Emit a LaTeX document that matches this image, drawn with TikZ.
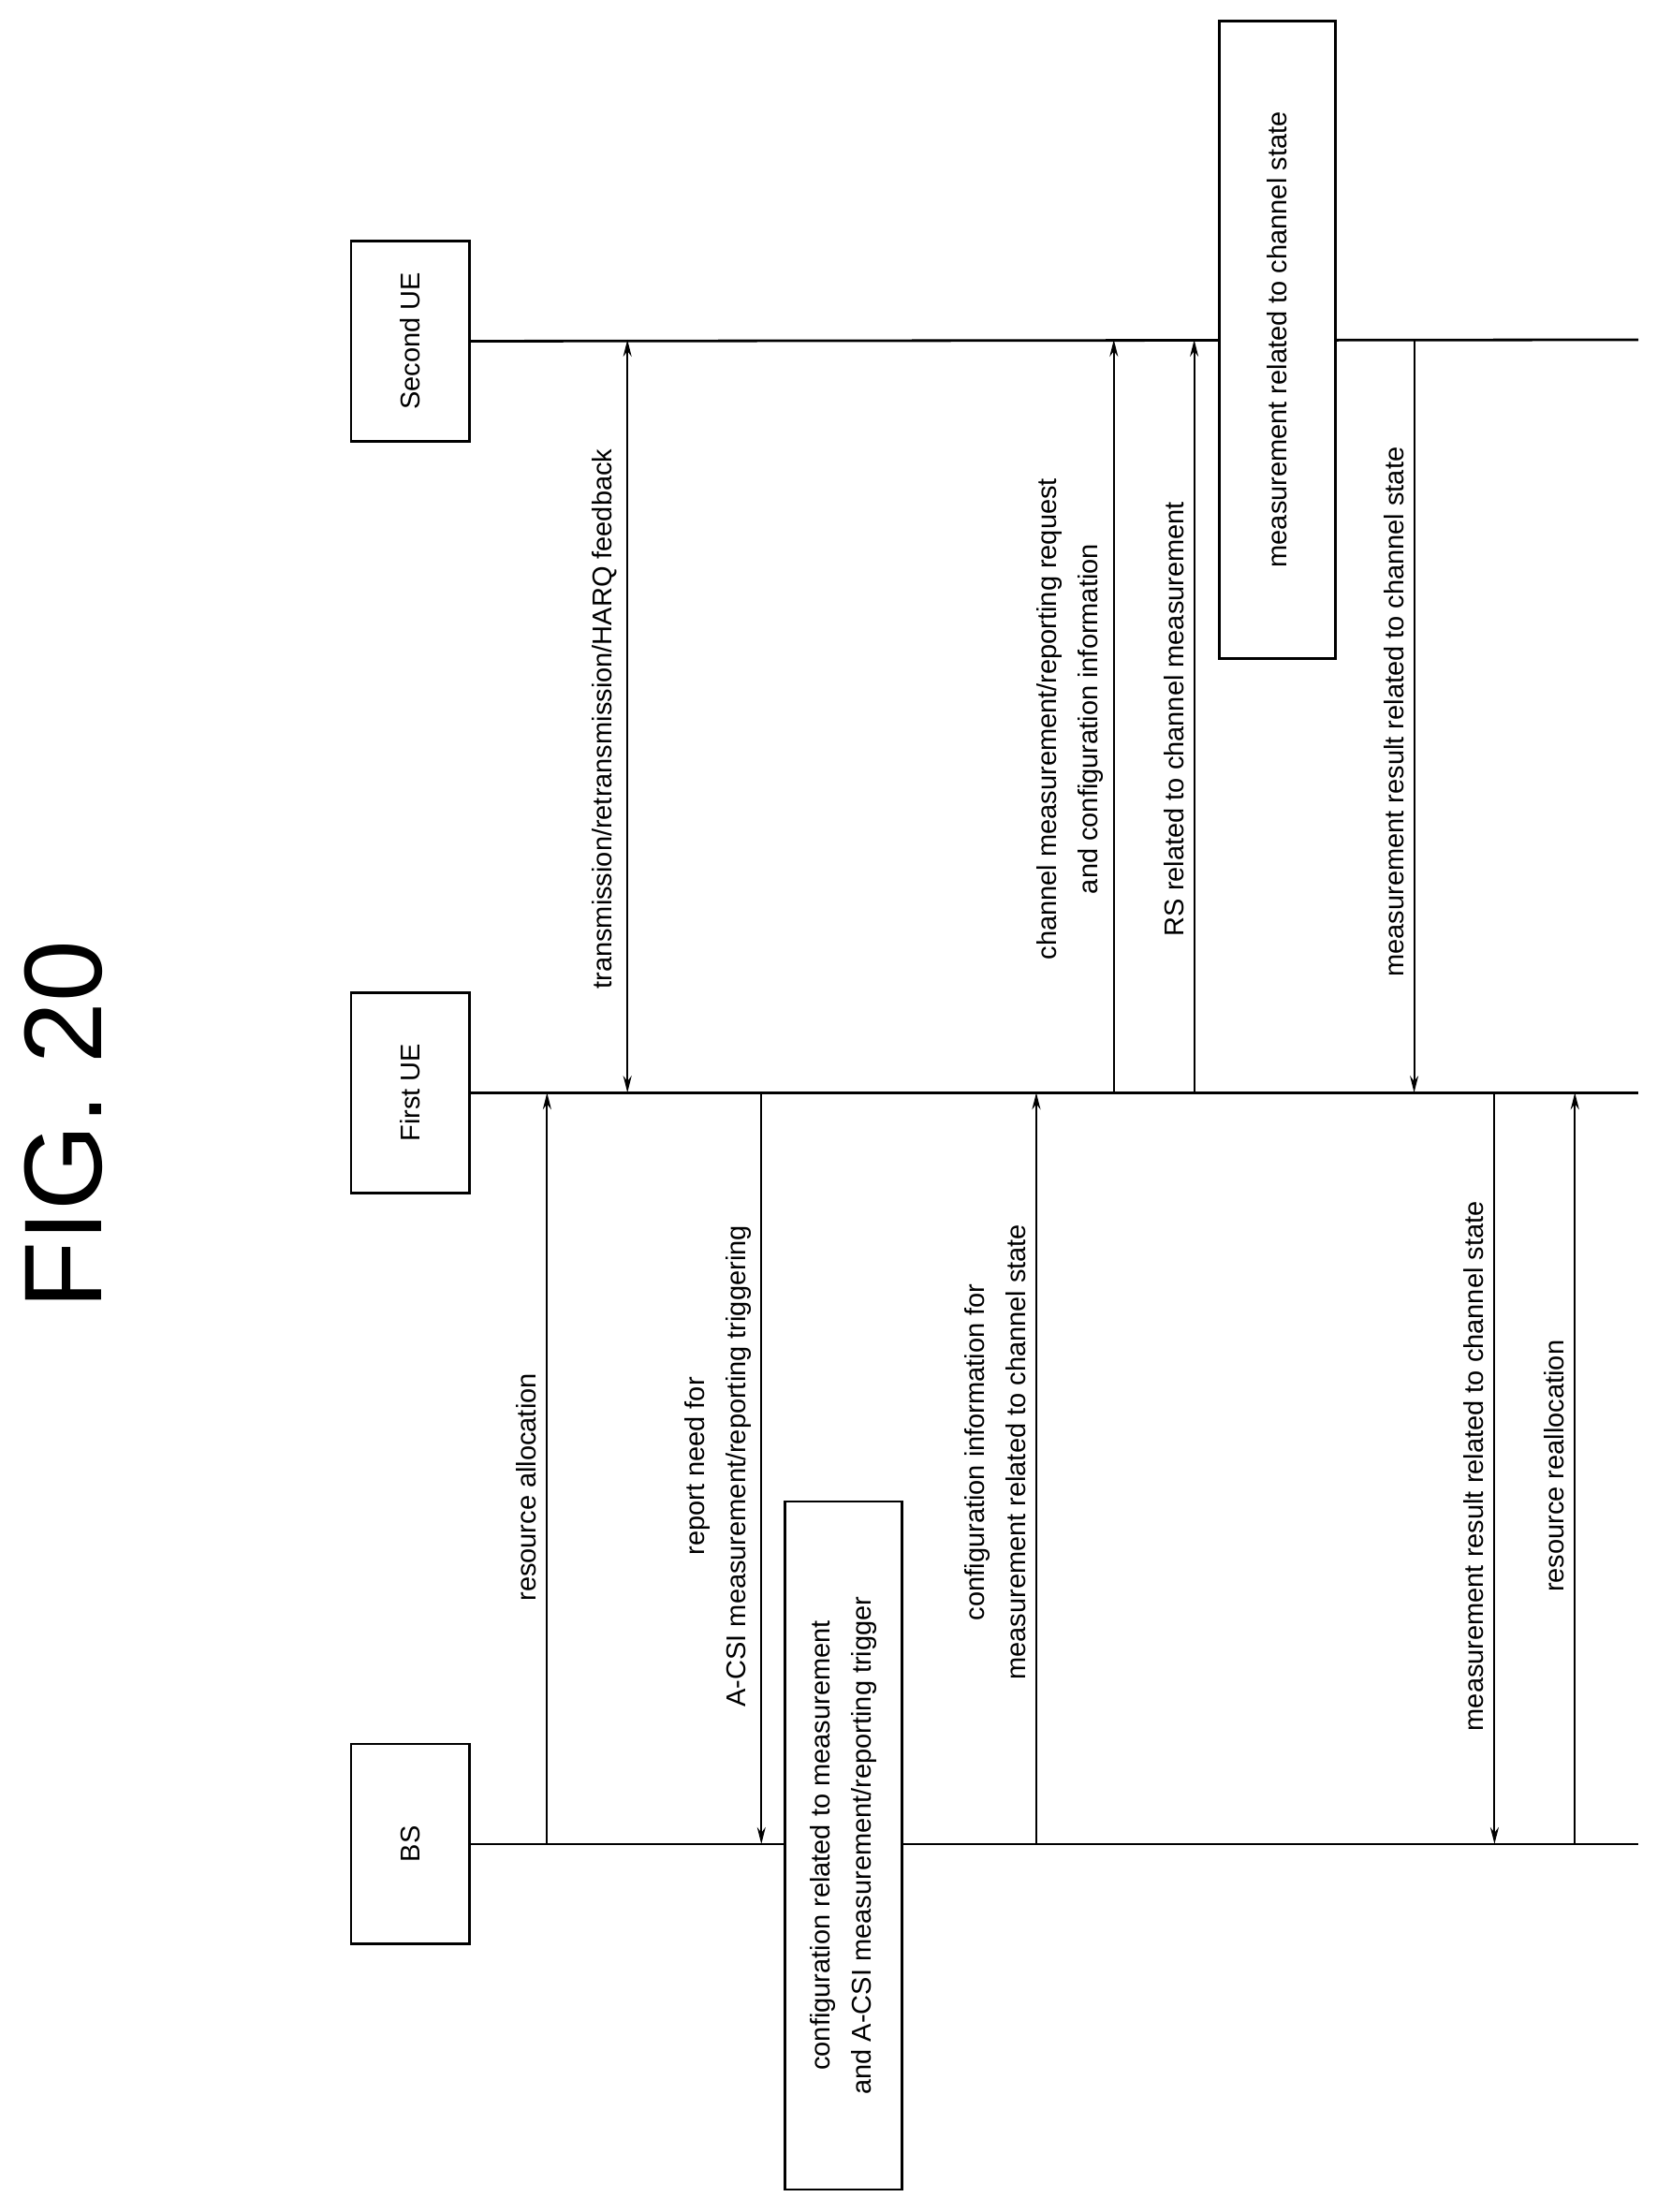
\documentclass[tikz,border=0pt]{standalone}
\usepackage{fontspec}
\setmainfont{Liberation Sans}
\usetikzlibrary{arrows.meta}
\begin{document}
\begin{tikzpicture}[x=1.506pt,y=-1.506pt,
  ln/.style={line width=2.8pt},
  msg/.style={line width=2pt,-{Stealth[length=18pt,width=9pt]}},
  msgb/.style={line width=2pt,{Stealth[length=18pt,width=9pt]}-{Stealth[length=18pt,width=9pt]}},
  lbl/.style={rotate=90,anchor=south,font=\fontsize{29}{44}\selectfont,align=center,inner sep=2pt},
  ent/.style={draw,line width=2.8pt,rotate=90,minimum width=142*1.506pt,minimum height=84*1.506pt,font=\fontsize{29}{44}\selectfont,inner sep=0pt},
  bx/.style={draw,fill=white,line width=2.8pt,rotate=90,font=\fontsize{29}{44}\selectfont,align=center,inner sep=0pt}]
\useasboundingbox (0,0) rectangle (1175,1569);
\node[rotate=90,font=\fontsize{118}{130}\selectfont] (title) at (45,798) {FIG. 20};
% entities
\node[ent] (ue2) at (291,242) {Second UE};
\node[ent] (ue1) at (291,775) {First UE};
\node[ent] (bs) at (291,1308) {BS};
\coordinate (e2) at (1162,241);
\coordinate (e1) at (1162,775);
\coordinate (eb) at (1162,1308);
\draw[ln] (ue2.south) -- (e2);
\draw[ln] (ue1.south) -- (e1);
\draw[ln] (bs.south) -- (eb);
% messages
\coordinate (a1s) at (388,1308); \coordinate (a1e) at (388,775);
\draw[msg] (a1s) -- (a1e);
\node[lbl] (l1) at (382,1055) {resource allocation};
\coordinate (a2s) at (445,241); \coordinate (a2e) at (445,775);
\draw[msgb] (a2s) -- (a2e);
\node[lbl] (l2) at (439,510) {transmission/retransmission/HARQ feedback};
\coordinate (a3s) at (540,775); \coordinate (a3e) at (540,1308);
\draw[msg] (a3s) -- (a3e);
\node[lbl] (l3) at (534,1040) {report need for\\A-CSI measurement/reporting triggering};
\node[bx,minimum width=488*1.506pt,minimum height=83*1.506pt] (cfg) at (598,1309) {configuration related to measurement\\and A-CSI measurement/reporting trigger};
\coordinate (a4s) at (735,1308); \coordinate (a4e) at (735,775);
\draw[msg] (a4s) -- (a4e);
\node[lbl] (l4) at (729,1030) {configuration information for\\measurement related to channel state};
\coordinate (a5s) at (790,775); \coordinate (a5e) at (790,241);
\draw[msg] (a5s) -- (a5e);
\node[lbl] (l5) at (784,510) {channel measurement/reporting request\\and configuration information};
\coordinate (a6s) at (847,775); \coordinate (a6e) at (847,241);
\draw[msg] (a6s) -- (a6e);
\node[lbl] (l6) at (841,510) {RS related to channel measurement};
\node[bx,minimum width=452*1.506pt,minimum height=82*1.506pt] (meas) at (906,241) {measurement related to channel state};
\coordinate (a7s) at (1003,241); \coordinate (a7e) at (1003,775);
\draw[msg] (a7s) -- (a7e);
\node[lbl] (l7) at (997,505) {measurement result related to channel state};
\coordinate (a8s) at (1060,775); \coordinate (a8e) at (1060,1308);
\draw[msg] (a8s) -- (a8e);
\node[lbl] (l8) at (1054,1040) {measurement result related to channel state};
\coordinate (a9s) at (1117,1308); \coordinate (a9e) at (1117,775);
\draw[msg] (a9s) -- (a9e);
\node[lbl] (l9) at (1111,1040) {resource reallocation};
\end{tikzpicture}
\end{document}
